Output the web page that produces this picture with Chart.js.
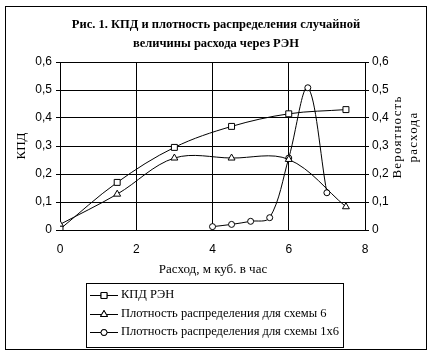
<!DOCTYPE html>
<html>
<head>
<meta charset="utf-8">
<script src="https://cdn.jsdelivr.net/npm/chart.js@4/dist/chart.umd.min.js"></script>
<style>
  html, body { margin: 0; padding: 0; background: #fff; }
  #wrap { width: 432px; height: 355px; position: relative; }
</style>
</head>
<body>
<div id="wrap"><canvas id="chart_id" width="432" height="355"></canvas></div>
<script>
// values
const flowX = [0, 1.5, 3, 4.5, 6, 7.5];
const kpdRen = [0.003, 0.17, 0.295, 0.37, 0.415, 0.43];
const density6 = [0.02, 0.128, 0.257, 0.257, 0.252, 0.083];
const flowX1x6 = [4, 4.5, 5, 5.5, 6, 6.5, 7];
const density1x6 = [0.012, 0.02, 0.031, 0.044, 0.257, 0.508, 0.133];

const xTicks = [0, 2, 4, 6, 8];
const yTicks = [0, 0.1, 0.2, 0.3, 0.4, 0.5, 0.6];

const titleLines = ['Рис. 1. КПД и плотность распределения случайной', 'величины расхода через РЭН'];
const xTitle = 'Расход, м куб. в час';
const yTitle = 'КПД';
const y1Title = ['Вероятность', 'расхода'];
const seriesLabels = ['КПД РЭН', 'Плотность распределения для схемы 6', 'Плотность распределения для схемы 1х6'];

const BLACK = '#000000';
const SERIF = '"Liberation Serif", "Times New Roman", serif';
const SANS = '"Liberation Sans", Arial, sans-serif';

const toPoints = (xs, ys) => xs.map((x, i) => ({ x: x, y: ys[i] }));

const fmtTick = (v) => {
    var r = Math.round(v * 10) / 10;
    return r === 0 ? '0' : r.toFixed(1).replace('.', ',');
};

const seriesStyle = (style, radius) => ({
    borderColor: BLACK,
    borderWidth: 1,
    backgroundColor: '#ffffff',
    pointStyle: style,
    pointRadius: radius,
    pointHoverRadius: radius,
    pointBorderColor: BLACK,
    pointBackgroundColor: '#ffffff',
    pointBorderWidth: 1,
    fill: false,
    tension: 0.35,
});

// title, axis titles, frame and boxed legend, drawn like the Excel sheet
const decorPlugin = {
    id: 'decor',
    afterDraw(chart) {
        const ctx = chart.ctx;
        ctx.save();
        ctx.strokeStyle = BLACK;
        ctx.fillStyle = BLACK;
        ctx.lineWidth = 1;

        // outer frame
        ctx.strokeRect(5.5, 6.5, 421, 343);

        // title
        ctx.font = 'bold 12.5px ' + SERIF;
        ctx.textAlign = 'center';
        ctx.textBaseline = 'middle';
        ctx.fillText(titleLines[0], 216, 25);
        ctx.fillText(titleLines[1], 216, 44);

        // x title
        ctx.font = '13px ' + SERIF;
        ctx.fillText(xTitle, 213, 270);

        // left y title
        ctx.save();
        ctx.translate(22, 146);
        ctx.rotate(-Math.PI / 2);
        ctx.fillText(yTitle, 0, 0);
        ctx.restore();

        // right y title
        ctx.save();
        ctx.letterSpacing = '1.2px';
        ctx.translate(398, 137);
        ctx.rotate(-Math.PI / 2);
        ctx.fillText(y1Title[0], 0, 0);
        ctx.fillText(y1Title[1], 0, 16);
        ctx.restore();

        // legend box
        ctx.strokeRect(86.5, 283.5, 257, 64);
        const rows = [295, 314, 332];
        chart.data.datasets.forEach((ds, i) => {
            const y = rows[i];
            ctx.beginPath();
            ctx.moveTo(90, y + 0.5);
            ctx.lineTo(118, y + 0.5);
            ctx.stroke();
            Chart.helpers.drawPoint(ctx, {
                pointStyle: ds.pointStyle,
                radius: ds.pointRadius,
                borderWidth: 1,
            }, 104, y + 0.5);
            ctx.fillStyle = '#ffffff';
            ctx.fill();
            ctx.fillStyle = BLACK;
            ctx.stroke();
            ctx.font = '12.5px ' + SERIF;
            ctx.textAlign = 'left';
            ctx.fillText(ds.label, 121, y);
        });
        ctx.restore();
    }
};

const config = {
    type: 'line',
    data: {
        datasets: [
            Object.assign({ label: seriesLabels[0], data: toPoints(flowX, kpdRen), yAxisID: 'y' }, seriesStyle('rect', 4.2)),
            Object.assign({ label: seriesLabels[1], data: toPoints(flowX, density6), yAxisID: 'y1' }, seriesStyle('triangle', 4)),
            Object.assign({ label: seriesLabels[2], data: toPoints(flowX1x6, density1x6), yAxisID: 'y1' }, seriesStyle('circle', 3)),
        ]
    },
    options: {
        responsive: false,
        animation: false,
        events: [],
        layout: { padding: { top: 62, left: 0, right: 0, bottom: 85 } },
        plugins: {
            legend: { display: false },
            title: { display: false },
            tooltip: { enabled: false },
        },
        scales: {
            x: {
                type: 'linear',
                min: 0,
                max: 8,
                afterBuildTicks: (axis) => { axis.ticks = xTicks.map(v => ({ value: v })); },
                afterFit: (axis) => { axis.height = 40; },
                ticks: { color: BLACK, font: { family: SANS, size: 12 }, padding: 12 },
                grid: { color: BLACK, lineWidth: 1, drawTicks: false },
                border: { color: BLACK, width: 1 },
            },
            y: {
                position: 'left',
                min: 0,
                max: 0.6,
                afterBuildTicks: (axis) => { axis.ticks = yTicks.map(v => ({ value: v })); },
                afterFit: (axis) => { axis.width = 60; },
                ticks: { color: BLACK, font: { family: SANS, size: 12 }, padding: 4, callback: fmtTick },
                grid: { color: BLACK, lineWidth: 1, tickLength: 4 },
                border: { color: BLACK, width: 1 },
            },
            y1: {
                position: 'right',
                min: 0,
                max: 0.6,
                afterBuildTicks: (axis) => { axis.ticks = yTicks.map(v => ({ value: v })); },
                afterFit: (axis) => { axis.width = 67; },
                ticks: { color: BLACK, font: { family: SANS, size: 12 }, padding: 3, callback: fmtTick },
                grid: { color: BLACK, lineWidth: 1, tickLength: 4, drawOnChartArea: false },
                border: { color: BLACK, width: 1 },
            },
        },
    },
    plugins: [decorPlugin],
};

new Chart(document.getElementById('chart_id'), config);
</script>
</body>
</html>
